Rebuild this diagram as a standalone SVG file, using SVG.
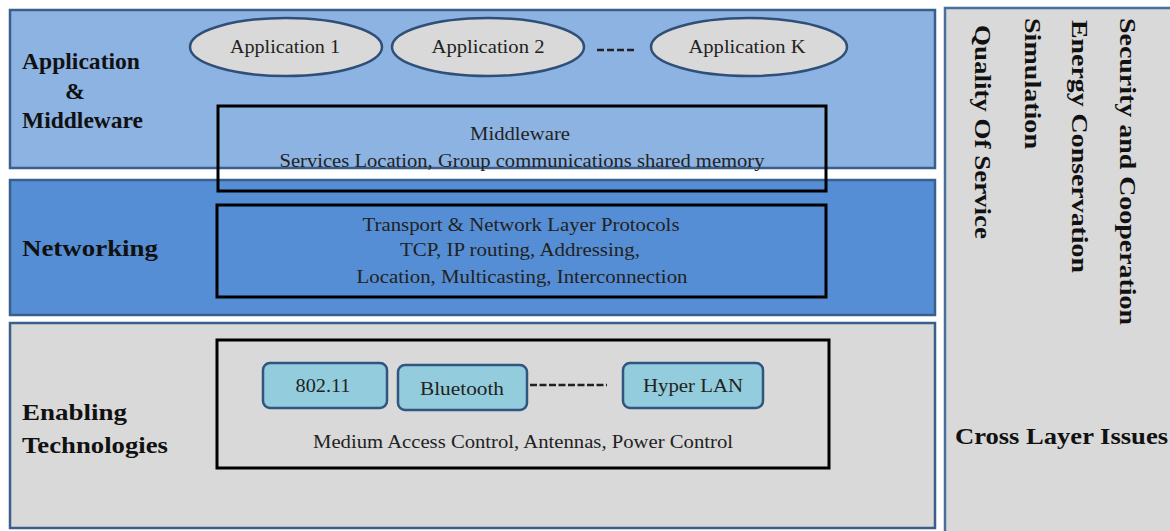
<svg xmlns="http://www.w3.org/2000/svg" width="1170" height="531" viewBox="0 0 1170 531">
<style>
.band{stroke:#3b5f8c;stroke-width:2.5}
.box{fill:none;stroke:#000;stroke-width:3}
.ell{fill:#d9d9d9;stroke:#2f4f78;stroke-width:2.5}
.tech{fill:#93cddd;stroke:#2f5580;stroke-width:2.5}
.lbl{font-family:"Liberation Serif",serif;font-weight:bold;font-size:24px;fill:#111}
.t{font-family:"Liberation Serif",serif;font-size:19px;fill:#222;text-anchor:middle}
.dash{stroke:#222;stroke-width:2.5}
</style>
<rect width="1170" height="531" fill="#fff"/>
<g id="cross-layer">
<rect x="945" y="8" width="230" height="530" fill="#d9d9d9" stroke="#4a6f9c" stroke-width="2.5"/>
<text class="lbl" transform="translate(1120,18) rotate(90)" textLength="307" lengthAdjust="spacingAndGlyphs">Security and Cooperation</text>
<text class="lbl" transform="translate(1072,20) rotate(90)" textLength="253" lengthAdjust="spacingAndGlyphs">Energy Conservation</text>
<text class="lbl" transform="translate(1025,18) rotate(90)" textLength="131" lengthAdjust="spacingAndGlyphs">Simulation</text>
<text class="lbl" transform="translate(975,25) rotate(90)" textLength="214" lengthAdjust="spacingAndGlyphs">Quality Of Service</text>
<text class="lbl" x="955" y="444" textLength="213" lengthAdjust="spacingAndGlyphs">Cross Layer Issues</text>
</g>
<g id="layer-app">
<rect class="band" x="10" y="10" width="925" height="158" fill="#8db3e2"/>
<text class="lbl" x="22" y="69" textLength="118" lengthAdjust="spacingAndGlyphs">Application</text>
<text class="lbl" x="65" y="99">&amp;</text>
<text class="lbl" x="22" y="128" textLength="121" lengthAdjust="spacingAndGlyphs">Middleware</text>
</g>
<g id="layer-net">
<rect class="band" x="10" y="180" width="925" height="135" fill="#558ed5"/>
<text class="lbl" x="22" y="256" textLength="136" lengthAdjust="spacingAndGlyphs">Networking</text>
</g>
<g id="layer-enabling">
<rect class="band" x="10" y="323" width="925" height="205" fill="#d9d9d9"/>
<text class="lbl" x="22" y="420" textLength="105" lengthAdjust="spacingAndGlyphs">Enabling</text>
<text class="lbl" x="22" y="453" textLength="146" lengthAdjust="spacingAndGlyphs">Technologies</text>
</g>
<g id="app1">
<ellipse class="ell" cx="286" cy="47" rx="96" ry="29"/>
<text class="t" x="285" y="53" textLength="110" lengthAdjust="spacingAndGlyphs">Application 1</text>
</g>
<g id="app2">
<ellipse class="ell" cx="488" cy="47" rx="96" ry="29"/>
<text class="t" x="488" y="53" textLength="113" lengthAdjust="spacingAndGlyphs">Application 2</text>
</g>
<g id="appK">
<ellipse class="ell" cx="749" cy="47" rx="98" ry="29"/>
<text class="t" x="747" y="53" textLength="117" lengthAdjust="spacingAndGlyphs">Application K</text>
</g>
<g id="middleware">
<rect class="box" x="218" y="106" width="608" height="85"/>
<text class="t" x="520" y="140" textLength="100" lengthAdjust="spacingAndGlyphs">Middleware</text>
<text class="t" x="522" y="167" textLength="485" lengthAdjust="spacingAndGlyphs">Services Location, Group communications shared memory</text>
</g>
<g id="network-protocols">
<rect class="box" x="217" y="205" width="609" height="92"/>
<text class="t" x="521" y="231" textLength="317" lengthAdjust="spacingAndGlyphs">Transport &amp; Network Layer Protocols</text>
<text class="t" x="520" y="256" textLength="240" lengthAdjust="spacingAndGlyphs">TCP, IP routing, Addressing,</text>
<text class="t" x="522" y="283" textLength="331" lengthAdjust="spacingAndGlyphs">Location, Multicasting, Interconnection</text>
</g>
<g id="enabling-box">
<rect class="box" x="217" y="340" width="612" height="128"/>
<text class="t" x="523" y="448" textLength="420" lengthAdjust="spacingAndGlyphs">Medium Access Control, Antennas, Power Control</text>
</g>
<g id="wifi">
<rect class="tech" x="263" y="363" width="124" height="45" rx="7"/>
<text class="t" x="323" y="392" textLength="55" lengthAdjust="spacingAndGlyphs">802.11</text>
</g>
<g id="bluetooth">
<rect class="tech" x="398" y="365" width="129" height="45" rx="7"/>
<text class="t" x="462" y="395" textLength="84" lengthAdjust="spacingAndGlyphs">Bluetooth</text>
</g>
<g id="hyperlan">
<rect class="tech" x="623" y="363" width="140" height="45" rx="7"/>
<text class="t" x="693" y="392" textLength="100" lengthAdjust="spacingAndGlyphs">Hyper LAN</text>
</g>
<g id="connectors">
<line class="dash" x1="597" y1="50" x2="635" y2="50" stroke-dasharray="7 3"/>
<line class="dash" x1="530" y1="385" x2="607" y2="385" stroke-dasharray="7 2.5"/>
</g>
</svg>
